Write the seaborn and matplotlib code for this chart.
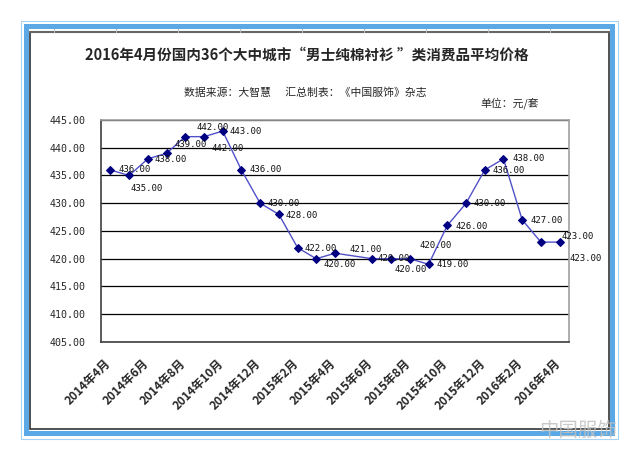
import pandas as pd
import matplotlib.pyplot as plt
import seaborn as sns
from matplotlib.patches import Rectangle
from matplotlib.lines import Line2D
from matplotlib.transforms import ScaledTranslation

# 数据：2014年4月 - 2016年4月，每月一个点（2015年5月缺失）
months = ['2014年4月', '2014年5月', '2014年6月', '2014年7月', '2014年8月', '2014年9月',
          '2014年10月', '2014年11月', '2014年12月', '2015年1月', '2015年2月', '2015年3月',
          '2015年4月', '2015年5月', '2015年6月', '2015年7月', '2015年8月', '2015年9月',
          '2015年10月', '2015年11月', '2015年12月', '2016年1月', '2016年2月', '2016年3月',
          '2016年4月']
prices = [436, 435, 438, 439, 442, 442, 443, 436, 430, 428, 422, 420,
          421, None, 420, 420, 420, 419, 426, 430, 436, 438, 427, 423, 423]
y_ticks = [405, 410, 415, 420, 425, 430, 435, 440, 445]

# 数据标签相对数据点的偏移（像素：右, 下）
label_offsets = [(8, 0), (1, 13), (7, 1), (8, -9), (11, -9), (8, 12), (7, 0), (8, 0),
                 (7, 0), (7, 1), (7, 1), (7, 6), (14, -4), None, (5, 0), (3, 11),
                 (10, -13), (8, 0), (8, 1), (7, 0), (8, 1), (9, 0), (8, 1), (29, 16), (2, -6)]

sns.set_style('white')
plt.rcParams['font.family'] = ['Noto Sans CJK SC', 'DejaVu Sans']

df = pd.DataFrame({'pos': range(len(months)), 'price': prices}).dropna()

W, H = 640, 461
fig = plt.figure(figsize=(W / 100, H / 100), dpi=100)
ax = fig.add_axes([101 / W, 1 - 342 / H, 468 / W, 222 / H])


def fx(x):
    return x / W


def fy(y):
    return 1 - y / H


# 外框
fig.patches.append(Rectangle((fx(21), fy(439)), fx(597), 418 / H, transform=fig.transFigure,
                             fill=False, edgecolor='#a9d3f3', lw=0.8))
fig.patches.append(Rectangle((fx(30), fy(429)), fx(579), 397 / H, transform=fig.transFigure,
                             fill=False, edgecolor='#333333', lw=1.2))
fig.lines.append(Line2D([fx(30), fx(609)], [fy(32), fy(32)], transform=fig.transFigure,
                        color='#666666', lw=1.5))
for k in range(9):
    xx = 54.3 + 62 * k
    fig.lines.append(Line2D([fx(xx), fx(xx)], [fy(29), fy(32)], transform=fig.transFigure,
                            color='#bbbbbb', lw=0.8))
fig.patches.append(Rectangle((fx(25.7), fy(432.5)), fx(585.8), 406.8 / H, transform=fig.transFigure,
                             fill=False, edgecolor='#5aa9e6', lw=3.6))

# 折线
sns.lineplot(data=df, x='pos', y='price', ax=ax, color='#5050c8', lw=1,
             marker='D', markersize=4, markerfacecolor='#000080', markeredgecolor='#000080',
             estimator=None, sort=False)

for i, v in enumerate(prices):
    if v is None:
        continue
    dx, dy = label_offsets[i]
    ax.annotate(f'{v:.2f}', (i, v), xytext=(dx * 0.72, -dy * 0.72), textcoords='offset points',
                ha='left', va='center', fontsize=6.5, family='DejaVu Sans Mono', color='#111111')

ax.set_xlim(-0.5, len(months) - 0.5)
ax.set_ylim(405, 445)
ax.set_yticks(y_ticks)
ax.set_yticklabels([f'{t:.2f}' for t in y_ticks], family='DejaVu Sans Mono', fontsize=7.2)
ax.yaxis.grid(True, color='black', lw=0.9)
ax.xaxis.grid(False)
ax.tick_params(axis='y', direction='out', length=3, width=0.8, color='#404040', pad=8)

ax.set_xticks(range(0, len(months), 2))
ax.set_xticklabels(months[::2], rotation=45, ha='right', va='top', rotation_mode='anchor',
                   fontsize=8.5, fontweight='bold')
ax.set_xticks([i + 1.5 for i in range(0, len(months) - 2, 2)], minor=True)
ax.tick_params(axis='x', which='major', length=0, pad=11)
ax.tick_params(axis='x', which='minor', direction='in', length=4, width=0.8, color='#404040')
for lab in ax.get_xticklabels():
    lab.set_transform(lab.get_transform() + ScaledTranslation(-6 / 100, 0, fig.dpi_scale_trans))

ax.set_xlabel('')
ax.set_ylabel('')
ax.spines['left'].set_color('#404040')
ax.spines['bottom'].set_color('#404040')
ax.spines['top'].set_color('#a0a0a0')
ax.spines['right'].set_color('#a0a0a0')
for s in ax.spines.values():
    s.set_linewidth(1.2)

fig.text(fx(307), fy(55), '2016年4月份国内36个大中城市“男士纯棉衬衫 ”类消费品平均价格',
         ha='center', va='center', fontsize=10.5, fontweight='bold')
fig.text(fx(305), fy(93), '数据来源：大智慧      汇总制表：《中国服饰》杂志',
         ha='center', va='center', fontsize=7.8)
fig.text(fx(510), fy(103), '单位：元/套', ha='center', va='center', fontsize=7.8)

# 水印
fig.text(fx(578), fy(430), '中国服饰', ha='center', va='center', fontsize=14,
         color='#c0c0c0', alpha=0.85)

fig.savefig('out.png', dpi=100, facecolor='white')
